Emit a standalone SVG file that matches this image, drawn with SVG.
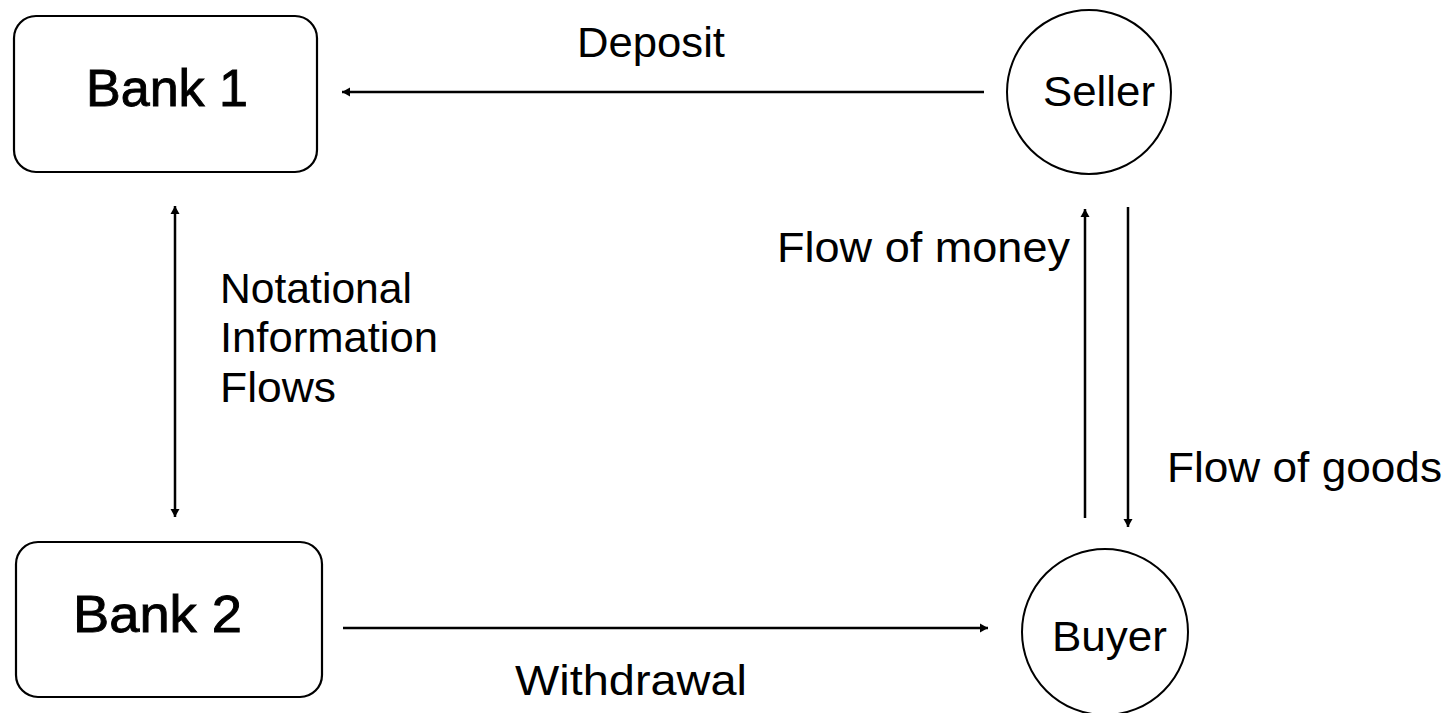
<svg xmlns="http://www.w3.org/2000/svg" width="1453" height="713" viewBox="0 0 1453 713">
<style>
.box{fill:#fff;stroke:#000;stroke-width:2.2}
.circ{fill:#fff;stroke:#000;stroke-width:2}
.bank{font-family:"Liberation Sans",Arial,sans-serif;font-size:52px;fill:#000;stroke:#000;stroke-width:0.9}
.lbl{font-family:"Liberation Sans",Arial,sans-serif;font-size:43px;fill:#000}
.con{stroke:#000;stroke-width:2.5;fill:none}
</style>
<defs>
<marker id="ah" markerUnits="userSpaceOnUse" markerWidth="12" markerHeight="12" refX="9" refY="6" orient="auto-start-reverse">
<path d="M1,1.5 L9,6 L1,10.5 Z" fill="#000"/>
</marker>
</defs>
<rect width="1453" height="713" fill="#fff"/>
<g id="bank1">
<rect class="box" x="14" y="16" width="303" height="156" rx="22" ry="22"/>
<text class="bank" x="86" y="106" textLength="162" lengthAdjust="spacingAndGlyphs">Bank 1</text>
</g>
<g id="bank2">
<rect class="box" x="16" y="542" width="306" height="155" rx="22" ry="22"/>
<text class="bank" x="73" y="632" textLength="169" lengthAdjust="spacingAndGlyphs">Bank 2</text>
</g>
<g id="seller">
<circle class="circ" cx="1089" cy="92" r="82"/>
<text class="lbl" x="1043" y="106" textLength="112" lengthAdjust="spacingAndGlyphs">Seller</text>
</g>
<g id="buyer">
<circle class="circ" cx="1105" cy="632" r="83"/>
<text class="lbl" x="1052" y="651" textLength="115" lengthAdjust="spacingAndGlyphs">Buyer</text>
</g>
<g id="connectors">
<line class="con" x1="984" y1="92" x2="342" y2="92" marker-end="url(#ah)"/>
<line class="con" x1="343" y1="628" x2="988" y2="628" marker-end="url(#ah)"/>
<line class="con" x1="175" y1="206" x2="175" y2="517" marker-start="url(#ah)" marker-end="url(#ah)"/>
<line class="con" x1="1085" y1="518" x2="1085" y2="209" marker-end="url(#ah)"/>
<line class="con" x1="1128" y1="207" x2="1128" y2="527" marker-end="url(#ah)"/>
</g>
<g id="labels">
<text class="lbl" x="577" y="57" textLength="148" lengthAdjust="spacingAndGlyphs">Deposit</text>
<text class="lbl" x="220" y="303" textLength="192" lengthAdjust="spacingAndGlyphs">Notational</text>
<text class="lbl" x="220" y="352" textLength="218" lengthAdjust="spacingAndGlyphs">Information</text>
<text class="lbl" x="220" y="402" textLength="116" lengthAdjust="spacingAndGlyphs">Flows</text>
<text class="lbl" x="777" y="262" textLength="293" lengthAdjust="spacingAndGlyphs">Flow of money</text>
<text class="lbl" x="1167" y="482" textLength="275" lengthAdjust="spacingAndGlyphs">Flow of goods</text>
<text class="lbl" x="515" y="695" textLength="232" lengthAdjust="spacingAndGlyphs">Withdrawal</text>
</g>
</svg>
